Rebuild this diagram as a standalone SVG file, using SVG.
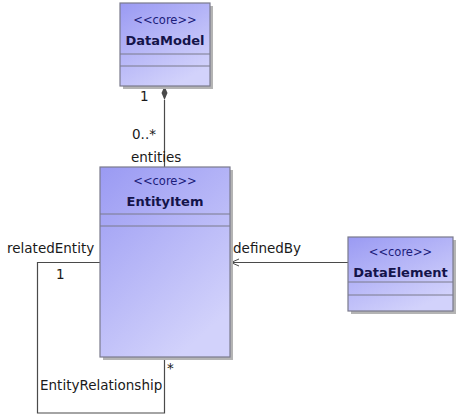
<svg xmlns="http://www.w3.org/2000/svg" width="457" height="416" viewBox="0 0 457 416">
<style>
.box{stroke:#7a7a8c;stroke-width:1.2;fill:url(#g)}
.shadow{fill:#b4b4b4}
.sep{stroke:#7a7a8c;stroke-width:1}
.st{font-family:"DejaVu Sans",sans-serif;font-size:11.5px;fill:#1c1c7a;text-anchor:middle}
.nm{font-family:"DejaVu Sans",sans-serif;font-weight:bold;font-size:13px;fill:#14144a;text-anchor:middle}
.lbl{font-family:"DejaVu Sans",sans-serif;font-size:13.5px;fill:#1a1a1a}
.line{stroke:#4a4a4a;stroke-width:1.2;fill:none}
</style>
<defs>
<linearGradient id="g" x1="0" y1="0" x2="0.6" y2="1">
<stop offset="0" stop-color="#9a9af3"/>
<stop offset="1" stop-color="#d2d2fb"/>
</linearGradient>
<marker id="open" markerWidth="10" markerHeight="10" refX="9" refY="5" orient="auto" markerUnits="userSpaceOnUse">
<path d="M1,1.5 L9,5 L1,8.5" fill="none" stroke="#4a4a4a" stroke-width="1"/>
</marker>
</defs>
<rect width="457" height="416" fill="#ffffff"/>
<g id="connectors">
<path class="line" d="M164.5,100 V167"/>
<path d="M164.5,86 L167.5,93 L164.5,100 L161.5,93 Z" fill="#4a4a4a"/>
<path class="line" d="M348,262.5 H231" marker-end="url(#open)"/>
<path class="line" d="M100,262.5 H37.5 V413 H164.5 V357"/>
<text class="lbl" x="140" y="101">1</text>
<text class="lbl" x="132" y="139">0..*</text>
<text class="lbl" x="131" y="162">entities</text>
<text class="lbl" x="233" y="253">definedBy</text>
<text class="lbl" x="7" y="253">relatedEntity</text>
<text class="lbl" x="56" y="279">1</text>
<text class="lbl" x="167" y="373">*</text>
<text class="lbl" x="40" y="390">EntityRelationship</text>
</g>
<g id="DataModel">
<rect class="shadow" x="123" y="6" width="90" height="83"/>
<rect class="box" x="120" y="3" width="90" height="83"/>
<line class="sep" x1="120" y1="54" x2="210" y2="54"/>
<line class="sep" x1="120" y1="66" x2="210" y2="66"/>
<text class="st" x="165" y="24">&lt;&lt;core&gt;&gt;</text>
<text class="nm" x="165" y="45">DataModel</text>
</g>
<g id="EntityItem">
<rect class="shadow" x="103" y="170" width="130" height="190"/>
<rect class="box" x="100" y="167" width="130" height="190"/>
<line class="sep" x1="100" y1="214" x2="230" y2="214"/>
<line class="sep" x1="100" y1="226" x2="230" y2="226"/>
<text class="st" x="165" y="185">&lt;&lt;core&gt;&gt;</text>
<text class="nm" x="165" y="206">EntityItem</text>
</g>
<g id="DataElement">
<rect class="shadow" x="351" y="240" width="105" height="74"/>
<rect class="box" x="348" y="237" width="105" height="74"/>
<line class="sep" x1="348" y1="282" x2="453" y2="282"/>
<line class="sep" x1="348" y1="295" x2="453" y2="295"/>
<text class="st" x="400.5" y="256">&lt;&lt;core&gt;&gt;</text>
<text class="nm" x="400.5" y="277">DataElement</text>
</g>
</svg>
